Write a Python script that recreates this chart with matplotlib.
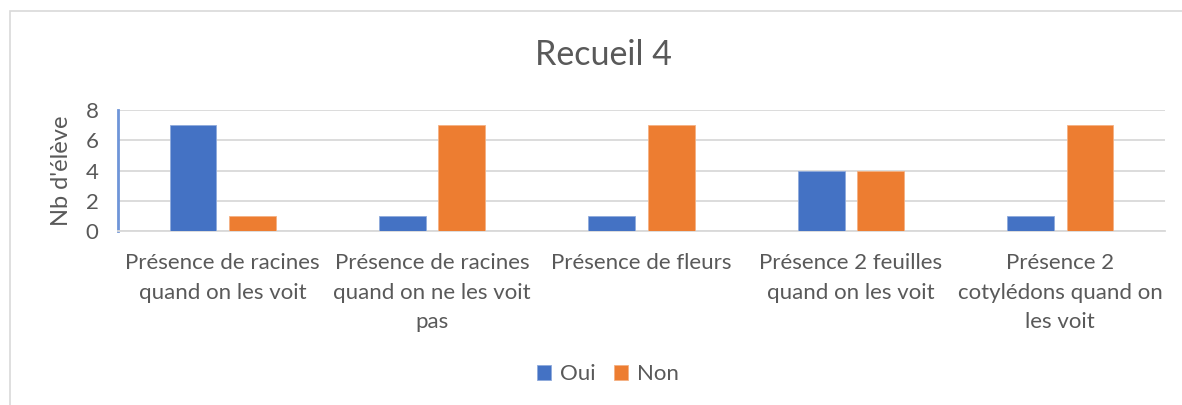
import matplotlib.pyplot as plt
import numpy as np
from matplotlib.patches import Rectangle

categories = [
    "Présence de racines\nquand on les voit",
    "Présence de racines\nquand on ne les voit\npas",
    "Présence de fleurs",
    "Présence 2 feuilles\nquand on les voit",
    "Présence 2\ncotylédons quand on\nles voit",
]
oui = [7, 1, 1, 4, 1]
non = [1, 7, 7, 4, 7]
yticks = [0, 2, 4, 6, 8]

BLUE = "#4472C4"
ORANGE = "#ED7D31"
TEXT = "#595959"
GRID = "#D9D9D9"

plt.rcParams['font.family'] = ['Lato', 'DejaVu Sans']

fig = plt.figure(figsize=(11.82, 4.05), dpi=100)
fig.patches.append(Rectangle((10 / 1182, -0.01), 1.1, 1 - 11 / 405 + 0.01,
                             transform=fig.transFigure, fill=False,
                             edgecolor=GRID, linewidth=1.2))
ax = fig.add_axes([118 / 1182, 1 - 231 / 405, 1047 / 1182, 121 / 405])

x = np.arange(len(categories))
w = 0.223
off = 0.142
ax.bar(x - off, oui, w, color=BLUE, edgecolor="#8FAADC", linewidth=0.6, label="Oui", zorder=3)
ax.bar(x + off, non, w, color=ORANGE, edgecolor="#F4B183", linewidth=0.6, label="Non", zorder=3)

ax.set_xlim(-0.5, len(categories) - 0.5)
ax.set_ylim(0, 8)
ax.set_yticks(yticks)
ax.set_xticks(x)
ax.set_xticklabels(categories, fontsize=16, color=TEXT, linespacing=1.6)
ax.tick_params(axis='y', labelsize=16, labelcolor=TEXT, length=0, pad=14)
ax.tick_params(axis='x', length=0, pad=16)
ax.yaxis.grid(True, color=GRID, linewidth=1.3, zorder=0)
for s in ["top", "right"]:
    ax.spines[s].set_visible(False)
ax.spines["bottom"].set_color(GRID)
ax.spines["bottom"].set_linewidth(1.3)
ax.spines["left"].set_color("#6F95D8")
ax.spines["left"].set_linewidth(2)

ax.set_ylabel("Nb d'élève", fontsize=17, color=TEXT, labelpad=10)
fig.text(603 / 1182, 1 - 55 / 405, "Recueil 4", fontsize=24.5, color=TEXT,
         ha="center", va="center")

fig.legend(loc="center", bbox_to_anchor=(608 / 1182, 1 - 374 / 405), ncol=2,
           frameon=False, fontsize=16, labelcolor=TEXT, handlelength=0.65,
           handleheight=0.65, handletextpad=0.4, columnspacing=0.8)

fig.savefig("out.png", dpi=100)
